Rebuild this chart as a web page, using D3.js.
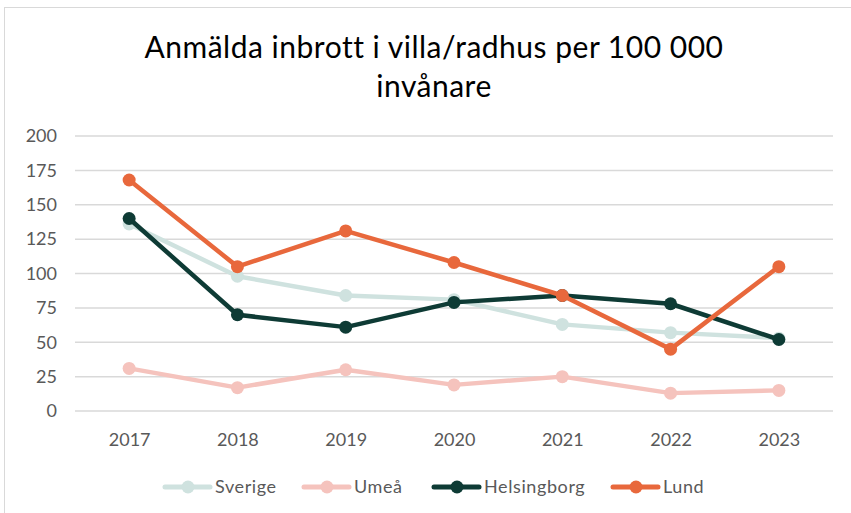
<!DOCTYPE html>
<html lang="sv">
<head>
<meta charset="utf-8" />
<title>Anmälda inbrott</title>
<script src="https://d3js.org/d3.v7.min.js"></script>
<style>
  body { margin: 0; background: #fff; }
  text { font-family: Lato, "Open Sans", sans-serif; }
</style>
</head>
<body>
<script>
// data
const years = ["2017", "2018", "2019", "2020", "2021", "2022", "2023"];
const sverige = [136, 98, 84, 81, 63, 57, 53];
const umea = [31, 17, 30, 19, 25, 13, 15];
const helsingborg = [140, 70, 61, 79, 84, 78, 52];
const lund = [168, 105, 131, 108, 84, 45, 105];
const yTicks = [0, 25, 50, 75, 100, 125, 150, 175, 200];
const seriesNames = ["Sverige", "Umeå", "Helsingborg", "Lund"];
const seriesColors = ["#cfe2df", "#f5c3bd", "#0e3b35", "#e8683c"];

const width = 851, height = 513;
const margin = { left: 75, right: 18, top: 136, bottom: 102 };

const svg = d3.select("body").append("svg")
  .attr("width", width)
  .attr("height", height);

// chart frame
svg.append("rect")
  .attr("x", 4.5).attr("y", 7.5)
  .attr("width", width + 10).attr("height", height + 10)
  .attr("fill", "none")
  .attr("stroke", "#d9d9d9");

// title
const title = svg.append("text")
  .attr("text-anchor", "middle")
  .attr("fill", "#000")
  .style("font-size", "30px")
  .style("letter-spacing", "0.5px");
title.append("tspan").attr("x", 434).attr("y", 58).text("Anmälda inbrott i villa/radhus per 100 000");
title.append("tspan").attr("x", 434).attr("y", 97).text("invånare");

const x = d3.scalePoint()
  .domain(years)
  .range([margin.left, width - margin.right])
  .padding(0.5);

const y = d3.scaleLinear()
  .domain([0, 200])
  .range([height - margin.bottom, margin.top]);

// gridlines
svg.append("g")
  .selectAll("line")
  .data(yTicks)
  .join("line")
  .attr("x1", margin.left)
  .attr("x2", width - margin.right)
  .attr("y1", d => y(d))
  .attr("y2", d => y(d))
  .attr("stroke", "#d9d9d9")
  .attr("stroke-width", 1.5);

// y axis labels
const yAxis = d3.axisLeft(y).tickValues(yTicks).tickSize(0).tickPadding(0);
svg.append("g")
  .attr("transform", "translate(57,0)")
  .call(yAxis)
  .call(g => g.select(".domain").remove())
  .call(g => g.selectAll("text")
    .attr("fill", "#595959")
    .style("font-size", "18px")
    .style("font-family", "Lato, sans-serif"));

// x axis labels
const xAxis = d3.axisBottom(x).tickSize(0).tickPadding(0);
svg.append("g")
  .attr("transform", "translate(0,433)")
  .call(xAxis)
  .call(g => g.select(".domain").remove())
  .call(g => g.selectAll("text")
    .attr("fill", "#595959")
    .style("font-size", "18px")
    .style("font-family", "Lato, sans-serif"));

const allSeries = [sverige, umea, helsingborg, lund];
const line = d3.line().x((d, i) => x(years[i])).y(d => y(d));

allSeries.forEach((vals, k) => {
  const g = svg.append("g");
  g.append("path")
    .datum(vals)
    .attr("d", line)
    .attr("fill", "none")
    .attr("stroke", seriesColors[k])
    .attr("stroke-width", 4.5)
    .attr("stroke-linejoin", "round");
  g.selectAll("circle")
    .data(vals)
    .join("circle")
    .attr("cx", (d, i) => x(years[i]))
    .attr("cy", d => y(d))
    .attr("r", 6.5)
    .attr("fill", seriesColors[k]);
});

// legend
const legendX = [163, 302, 432, 611];
const legend = svg.append("g").attr("transform", "translate(0,487)");
seriesNames.forEach((name, k) => {
  const item = legend.append("g").attr("transform", "translate(" + legendX[k] + ",0)");
  item.append("line")
    .attr("x1", 2).attr("x2", 47)
    .attr("stroke", seriesColors[k])
    .attr("stroke-width", 5)
    .attr("stroke-linecap", "round");
  item.append("circle").attr("cx", 25).attr("r", 6.5).attr("fill", seriesColors[k]);
  item.append("text")
    .attr("x", 52).attr("dy", "0.35em")
    .attr("fill", "#595959")
    .style("font-size", "18px")
    .style("letter-spacing", "0.6px")
    .text(name);
});
</script>
</body>
</html>
